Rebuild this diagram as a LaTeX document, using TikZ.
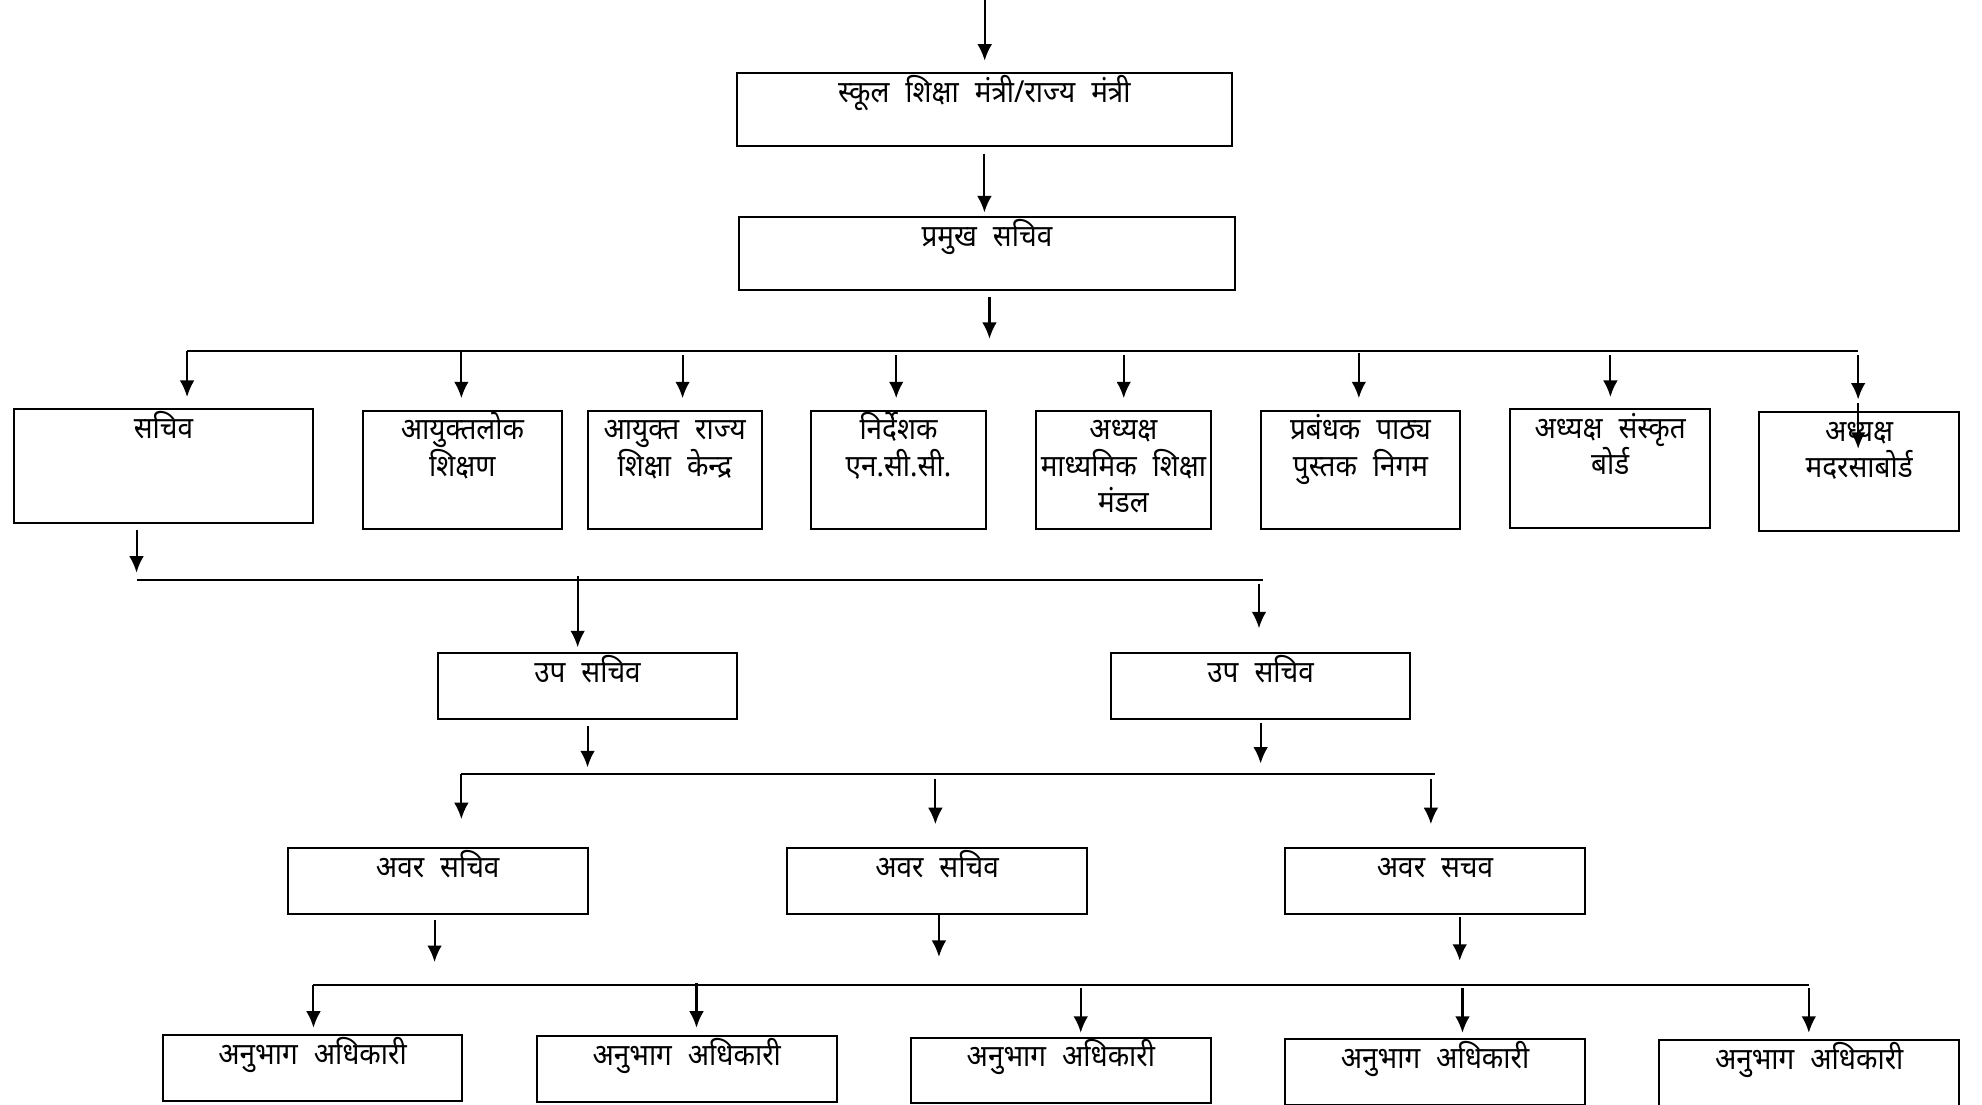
\documentclass[tikz,border=0pt]{standalone}
\usepackage{fontspec}
\usetikzlibrary{arrows.meta}
\newfontfamily\hindi[Script=Devanagari,FakeStretch=0.92,WordSpace=2.2]{Noto Sans}
\newcommand\hf{\hindi\fontsize{12pt}{14.3pt}\selectfont}
\newcommand\hstrut{\rule{0pt}{13pt}}
\tikzset{
  box/.style={draw, line width=0.8pt, anchor=north west, inner sep=0pt},
  lbl/.style={anchor=north, font=\hf, align=center, inner sep=0pt, yshift=1.2pt},
  arr/.style={-{Latex[length=6.5pt,width=5.8pt]}, line width=0.8pt},
  bus/.style={line width=0.8pt},
}
\begin{document}
\begin{tikzpicture}[x=0.5pt,y=-0.5pt]
\useasboundingbox (0,0) rectangle (1568,874);
% top boxes
\node[box, minimum width=196pt, minimum height=29pt, label={[lbl]north:\hstrut स्कूल शिक्षा मंत्री/राज्य मंत्री}] (t1) at (582,57) {};
\node[box, minimum width=196pt, minimum height=29pt, label={[lbl]north:\hstrut प्रमुख सचिव}] (t2) at (584,171) {};
% row 2
\node[box, minimum width=118.5pt, minimum height=45pt, label={[lbl]north:\hstrut सचिव}] (r1) at (10,323) {};
\node[box, minimum width=79pt, minimum height=47pt, label={[lbl]north:\hstrut आयुक्तलोक\\शिक्षण}] (r2) at (286,324) {};
\node[box, minimum width=69pt, minimum height=47pt, label={[lbl]north:\hstrut आयुक्त राज्य\\शिक्षा केन्द्र}] (r3) at (464,324) {};
\node[box, minimum width=69pt, minimum height=47pt, label={[lbl]north:\hstrut निर्देशक\\एन.सी.सी.}] (r4) at (641,324) {};
\node[box, minimum width=69pt, minimum height=47pt, label={[lbl]north:\hstrut अध्यक्ष\\माध्यमिक शिक्षा\\मंडल}] (r5) at (819,324) {};
\node[box, minimum width=78.5pt, minimum height=47pt, label={[lbl]north:\hstrut प्रबंधक पाठ्य\\पुस्तक निगम}] (r6) at (997,324) {};
\node[box, minimum width=79pt, minimum height=47pt, label={[lbl]north:\hstrut अध्यक्ष संस्कृत\\बोर्ड}] (r7) at (1194,323) {};
\node[box, minimum width=79pt, minimum height=47pt, label={[lbl]north:\hstrut अध्यक्ष\\मदरसाबोर्ड}] (r8) at (1391,325) {};
% row 3
\node[box, minimum width=118pt, minimum height=26pt, label={[lbl]north:\hstrut उप सचिव}] (u1) at (346,516) {};
\node[box, minimum width=118.5pt, minimum height=26pt, label={[lbl]north:\hstrut उप सचिव}] (u2) at (878,516) {};
% row 4
\node[box, minimum width=118.5pt, minimum height=26pt, label={[lbl]north:\hstrut अवर सचिव}] (a1) at (227,670) {};
\node[box, minimum width=118.5pt, minimum height=26pt, label={[lbl]north:\hstrut अवर सचिव}] (a2) at (622,670) {};
\node[box, minimum width=118.5pt, minimum height=26pt, label={[lbl]north:\hstrut अवर सचव}] (a3) at (1016,670) {};
% row 5
\node[box, minimum width=118.5pt, minimum height=26pt, label={[lbl]north:\hstrut अनुभाग अधिकारी}] (o1) at (128,818) {};
\node[box, minimum width=118.5pt, minimum height=26pt, label={[lbl]north:\hstrut अनुभाग अधिकारी}] (o2) at (424,819) {};
\node[box, minimum width=118.5pt, minimum height=26pt, label={[lbl]north:\hstrut अनुभाग अधिकारी}] (o3) at (720,820) {};
\node[box, minimum width=118.5pt, minimum height=26pt, label={[lbl]north:\hstrut अनुभाग अधिकारी}] (o4) at (1016,821) {};
\node[box, minimum width=118.5pt, minimum height=26pt, label={[lbl]north:\hstrut अनुभाग अधिकारी}] (o5) at (1312,822) {};
% coordinates
\coordinate (top) at (779,0);
\coordinate (bus1L) at (148,278); \coordinate (bus1R) at (1470,278);
\coordinate (k1) at (148,278); \coordinate (k2) at (365,278); \coordinate (k3) at (540,281);
\coordinate (k4) at (709,281); \coordinate (k5) at (889,281); \coordinate (k6) at (1075,279);
\coordinate (k7) at (1274,281); \coordinate (k8) at (1470,281);
\coordinate (k8b) at (1470,319); \coordinate (k8e) at (1470,355);
\coordinate (bus2L) at (108,459); \coordinate (bus2R) at (999,459);
\coordinate (m1) at (457,456); \coordinate (m2) at (996,462);
\coordinate (bus3L) at (365,612); \coordinate (bus3R) at (1135,612);
\coordinate (n1) at (365,612); \coordinate (n2) at (740,616); \coordinate (n3) at (1132,616);
\coordinate (bus4L) at (248,779); \coordinate (bus4R) at (1431,779);
\coordinate (p1) at (248,779); \coordinate (p2) at (551,778); \coordinate (p3) at (855,782);
\coordinate (p4) at (1157,782); \coordinate (p5) at (1431,782);
% connectors
\draw[arr, shorten >=4.5pt] (top) -- (top |- t1.north);
\draw[arr, shorten <=2.5pt, shorten >=1.5pt] (t1.south) -- (t1.south |- t2.north);
\draw[arr, shorten <=2pt, shorten >=5pt] ([xshift=1pt]t2.south) -- ([xshift=1pt]t2.south |- bus1L);
\draw[bus] (bus1L) -- (bus1R);
\foreach \k/\r in {k1/r1,k2/r2,k3/r3,k4/r4,k5/r5,k6/r6,k7/r7,k8/r8}
  \draw[arr, shorten >=4.5pt] (\k) -- (\k |- \r.north);
\draw[arr] (k8b) -- (k8e);
\draw[arr, shorten <=2.5pt, shorten >=3pt] (bus2L |- r1.south) -- (bus2L);
\draw[bus] (bus2L) -- (bus2R);
\draw[arr, shorten >=2pt] (m1) -- (m1 |- u1.north);
\draw[arr, shorten >=9.5pt] (m2) -- (m2 |- u2.north);
\draw[arr, shorten <=2.5pt, shorten >=2.5pt] (u1.south) -- (u1.south |- bus3L);
\draw[arr, shorten <=1pt, shorten >=4pt] (u2.south) -- (u2.south |- bus3L);
\draw[bus] (bus3L) -- (bus3R);
\draw[arr, shorten >=11pt] (n1) -- (n1 |- a1.north);
\draw[arr, shorten >=9pt] (n2) -- (n2 |- a2.north);
\draw[arr, shorten >=9pt] (n3) -- (n3 |- a3.north);
\draw[arr, shorten <=2pt, shorten >=9pt] ([xshift=-1.25pt]a1.south) -- ([xshift=-1.25pt]a1.south |- bus4L);
\draw[arr, shorten >=11pt] ([xshift=0.75pt]a2.south) -- ([xshift=0.75pt]a2.south |- bus4L);
\draw[arr, shorten <=1pt, shorten >=9.5pt] ([xshift=9.75pt]a3.south) -- ([xshift=9.75pt]a3.south |- bus4L);
\draw[bus] (bus4L) -- (bus4R);
\draw[arr, shorten >=2.5pt] (p1) -- (p1 |- o1.north);
\draw[arr, shorten >=3pt] (p2) -- (p2 |- o2.north);
\draw[arr, shorten >=1.5pt] (p3) -- (p3 |- o3.north);
\draw[arr, shorten >=2pt] (p4) -- (p4 |- o4.north);
\draw[arr, shorten >=2.5pt] (p5) -- (p5 |- o5.north);
\end{tikzpicture}
\end{document}
